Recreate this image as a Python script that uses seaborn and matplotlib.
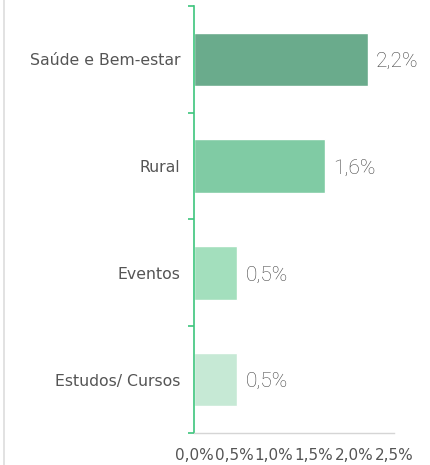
import pandas as pd
import matplotlib.pyplot as plt
import seaborn as sns

categories = ['Saúde e Bem-estar', 'Rural', 'Eventos', 'Estudos/ Cursos']
values = [2.17, 1.64, 0.54, 0.54]
bar_colors = ['#6aab8c', '#80cba4', '#a3dfbd', '#c6e9d5']
x_ticks = [0.0, 0.5, 1.0, 1.5, 2.0, 2.5]

df = pd.DataFrame({'categoria': categories, 'valor': values})

sns.set_style('white')
plt.rcParams['font.family'] = ['DejaVu Sans']

fig = plt.figure(figsize=(4.31, 4.65), dpi=100)
ax = fig.add_axes([194 / 431, 1 - 433 / 465, 200 / 431, 427 / 465])

sns.barplot(data=df, x='valor', y='categoria', hue='categoria', palette=bar_colors,
            orient='h', width=0.5, saturation=1, legend=False, ax=ax)

ax.set_xlim(0, 2.5)
ax.set_ylim(len(categories) - 0.5, -0.5)
ax.set_xticks(x_ticks)
ax.set_xticklabels([f'{t:.1f}%'.replace('.', ',') for t in x_ticks])
ax.set_yticks([i - 0.5 for i in range(len(categories) + 1)], minor=True)
ax.set_xlabel('')
ax.set_ylabel('')

# rótulos de valor ao lado das barras
for i, v in enumerate(values):
    ax.annotate(f'{v:.1f}%'.replace('.', ','), (v, i), xytext=(6, -1.5),
                textcoords='offset points', va='center', ha='left',
                fontsize=15, fontweight='light', family='Roboto', color='#444444')

for s in ['top', 'right']:
    ax.spines[s].set_visible(False)
ax.spines['left'].set_color('#3dc57d')
ax.spines['left'].set_linewidth(1.2)
ax.spines['bottom'].set_color('#d5d5d5')
ax.spines['bottom'].set_linewidth(1.0)

ax.tick_params(axis='y', which='major', length=0, pad=10, labelsize=11.3, labelcolor='#555555')
ax.tick_params(axis='y', which='minor', left=True, length=4, width=1.2, color='#3dc57d')
ax.tick_params(axis='x', length=0, pad=11, labelsize=11, labelcolor='#555555')

fig.add_artist(plt.Line2D([4 / 431, 4 / 431], [0, 1], color='#dddddd', linewidth=1.2))

fig.savefig('out.png', dpi=100)
